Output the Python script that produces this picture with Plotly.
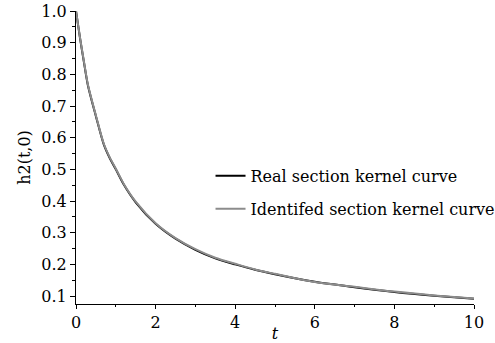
import plotly.graph_objects as go

t_vals = [0, 0.1, 0.2, 0.3, 0.5, 0.7, 0.85, 1.0, 1.2, 1.5, 2.0, 2.5, 3.0, 3.5, 4.0, 4.5, 5.0, 6.0, 7.0, 8.0, 9.0, 10.0]
real_vals = [1.0, 0.915, 0.838, 0.765, 0.668, 0.578, 0.535, 0.500, 0.452, 0.396, 0.328, 0.281, 0.246, 0.219, 0.200, 0.183, 0.169, 0.145, 0.128, 0.113, 0.101, 0.091]
ident_vals = [1.0, 0.917, 0.840, 0.767, 0.670, 0.580, 0.537, 0.502, 0.454, 0.398, 0.330, 0.283, 0.248, 0.221, 0.202, 0.184, 0.170, 0.144, 0.129, 0.114, 0.102, 0.092]

serif = "DejaVu Serif"
fs = 16

fig = go.Figure()
fig.add_trace(go.Scatter(x=t_vals, y=real_vals, mode="lines", name="Real section kernel curve",
                         line=dict(color="black", width=2, shape="spline", smoothing=0.8), legendgroup="a"))
fig.add_trace(go.Scatter(x=t_vals, y=ident_vals, mode="lines", name="Identifed section kernel curve",
                         line=dict(color="#8c8c8c", width=2, shape="spline", smoothing=0.8), legendgroup="b"))

fig.update_layout(
    width=495, height=343,
    margin=dict(l=76, r=21, t=11, b=39, autoexpand=False),
    paper_bgcolor="white", plot_bgcolor="white",
    font=dict(family=serif, size=fs, color="black"),
    showlegend=True,
    legend=dict(x=0.338, y=0.495, xanchor="left", yanchor="top", bgcolor="rgba(0,0,0,0)",
                font=dict(family=serif, size=fs), tracegroupgap=9, itemwidth=30),
    xaxis=dict(range=[0, 10], tickvals=[0, 2, 4, 6, 8, 10], showline=True, linecolor="black",
               linewidth=1, ticks="outside", ticklen=4, tickcolor="black", showgrid=False,
               zeroline=False, title=dict(text="<i>t</i>", standoff=2, font=dict(family=serif, size=fs)),
               tickfont=dict(family=serif, size=fs),
               minor=dict(tickvals=[1, 3, 5, 7, 9], ticks="outside", ticklen=2, tickcolor="black")),
    yaxis=dict(range=[0.0748, 1.0], tickvals=[0.1, 0.2, 0.3, 0.4, 0.5, 0.6, 0.7, 0.8, 0.9, 1.0],
               ticktext=["0.1", "0.2", "0.3", "0.4", "0.5", "0.6", "0.7", "0.8", "0.9", "1.0"],
               showline=True, linecolor="black", linewidth=1, ticks="outside", ticklen=5,
               tickcolor="black", showgrid=False, zeroline=False,
               tickfont=dict(family=serif, size=fs),
               title=dict(text="h2(t,0)", standoff=6, font=dict(family=serif, size=fs)),
               minor=dict(tickvals=[0.15, 0.25, 0.35, 0.45, 0.55, 0.65, 0.75, 0.85, 0.95],
                          ticks="outside", ticklen=3, tickcolor="black")),
)

fig.write_html("out.html")
